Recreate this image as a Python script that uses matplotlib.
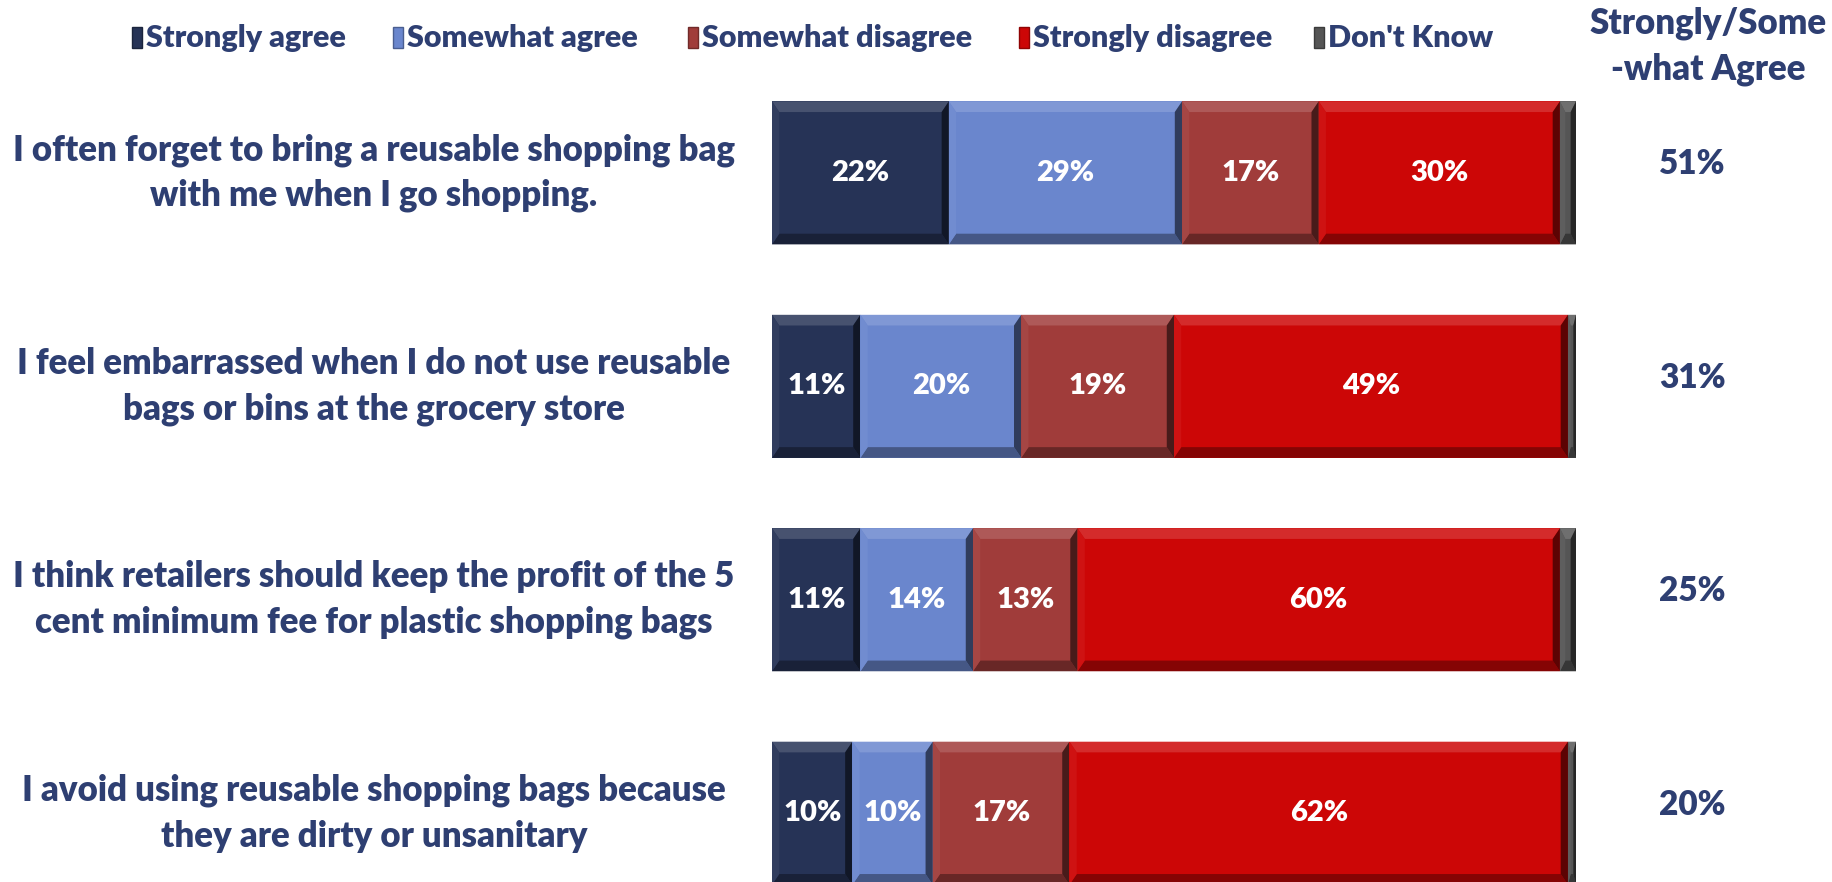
import matplotlib.pyplot as plt
from matplotlib.patches import Polygon, Rectangle
from matplotlib.colors import to_rgb

plt.rcParams['font.family'] = ['Lato', 'DejaVu Sans']

statements = [
    "I often forget to bring a reusable shopping bag\nwith me when I go shopping.",
    "I feel embarrassed when I do not use reusable\nbags or bins at the grocery store",
    "I think retailers should keep the profit of the 5\ncent minimum fee for plastic shopping bags",
    "I avoid using reusable shopping bags because\nthey are dirty or unsanitary",
]
strongly_agree = [22, 11, 11, 10]
somewhat_agree = [29, 20, 14, 10]
somewhat_disagree = [17, 19, 13, 17]
strongly_disagree = [30, 49, 60, 62]
dont_know = [2, 1, 2, 1]
agree_total = [51, 31, 25, 20]

series = ["Strongly agree", "Somewhat agree", "Somewhat disagree",
          "Strongly disagree", "Don't Know"]
colors = ["#263356", "#6A86CD", "#A03C3A", "#CC0606", "#555555"]
navy = "#2E3F72"


def mix(c, t, a):
    c = to_rgb(c)
    t = to_rgb(t)
    return tuple(ci * (1 - a) + ti * a for ci, ti in zip(c, t))


W, H = 1832, 882
fig = plt.figure(figsize=(W / 100, H / 100), dpi=100)
# axes reaches past the bottom edge so the last bar is cut like the original
ax = fig.add_axes([772 / W, -0.043, 804 / W, 0.968])
ax.set_xlim(0, 100)
ax.set_ylim(-0.5, 3.5)
ax.axis('off')

ypos = [3, 2, 1, 0]
h = 0.67
bx, by = 0.9, 0.05
values = [strongly_agree, somewhat_agree, somewhat_disagree, strongly_disagree, dont_know]
left = [0] * 4
for vals, col, name in zip(values, colors, series):
    ax.barh(ypos, vals, left=left, height=h, color=col, edgecolor='none')
    for i, v in enumerate(vals):
        x0, x1 = left[i], left[i] + v
        top, bot = ypos[i] + h / 2, ypos[i] - h / 2
        b = min(bx, v / 3)
        ax.add_patch(Polygon([(x0, top), (x1, top), (x1 - b, top - by), (x0 + b, top - by)],
                             closed=True, color=mix(col, 'white', 0.15), lw=0))
        ax.add_patch(Polygon([(x0, bot), (x1, bot), (x1 - b, bot + by), (x0 + b, bot + by)],
                             closed=True, color=mix(col, 'black', 0.35), lw=0))
        ax.add_patch(Polygon([(x0, bot), (x0, top), (x0 + b, top - by), (x0 + b, bot + by)],
                             closed=True, color=mix(col, 'white', 0.05), lw=0))
        ax.add_patch(Polygon([(x1, bot), (x1, top), (x1 - b, top - by), (x1 - b, bot + by)],
                             closed=True, color=mix(col, 'black', 0.55), lw=0))
        if name != "Don't Know":
            ax.text(left[i] + v / 2, ypos[i], f"{v}%", ha='center', va='center',
                    color='white', fontsize=21, fontweight='heavy')
    left = [l + v for l, v in zip(left, vals)]

# statements on the left
for y, s in zip(ypos, statements):
    ax.text(-49.5, y, s, ha='center', va='center', multialignment='center',
            color=navy, fontsize=25, fontweight='heavy', linespacing=1.45)

# agree total column
for y, t in zip(ypos, agree_total):
    ax.text(114.5, y + 0.04, f"{t}%", ha='center', va='center',
            color=navy, fontsize=24, fontweight='heavy')
fig.text(1708 / W, 1 - 46 / H, "Strongly/Some\n-what Agree", ha='center', va='center',
         color=navy, fontsize=25, fontweight='heavy', linespacing=1.45)

# legend
leg_x = [132, 393, 688, 1019, 1314]
for x, name, col in zip(leg_x, series, colors):
    fig.patches.append(Rectangle((x / W, 1 - 48 / H), 10 / W, 21 / H,
                                 transform=fig.transFigure, facecolor=col,
                                 edgecolor=mix(col, 'black', 0.3), lw=1))
    fig.text((x + 14) / W, 1 - 38 / H, name, ha='left', va='center',
             color=navy, fontsize=22, fontweight='heavy')

fig.savefig("out.png", dpi=100)
